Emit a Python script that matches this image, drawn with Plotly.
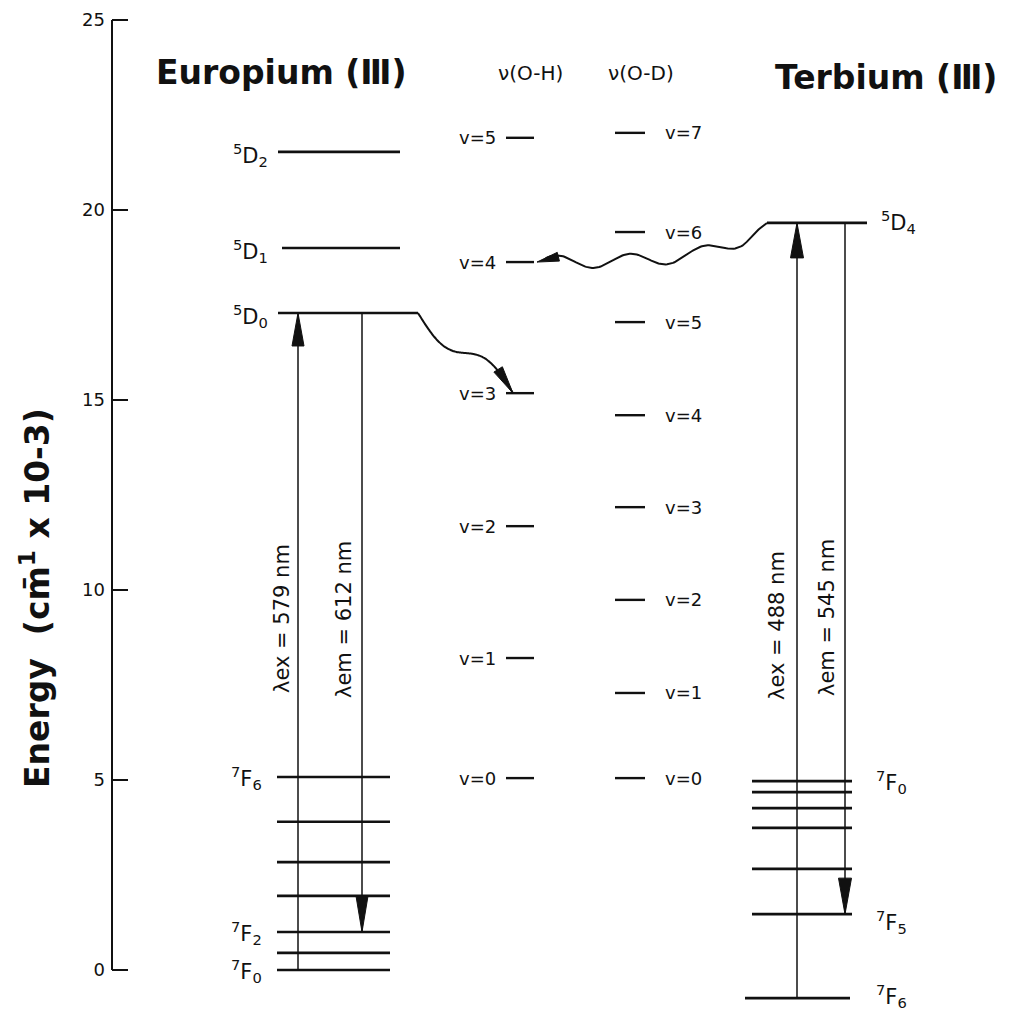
import numpy as np
import plotly.graph_objects as go

# ---------------- data (energies in 10^3 cm^-1) ----------------
y_ticks = [0, 5, 10, 15, 20, 25]

eu_upper_labels = ["5D2", "5D1", "5D0"]
eu_upper_E = [21.53, 19.0, 17.29]
eu_lower_labels = ["7F6", "", "", "", "7F2", "", "7F0"]
eu_lower_E = [5.08, 3.9, 2.84, 1.95, 1.0, 0.45, 0.0]

oh_v = [0, 1, 2, 3, 4, 5]
oh_E = [5.05, 8.21, 11.68, 15.18, 18.63, 21.9]
od_v = [0, 1, 2, 3, 4, 5, 6, 7]
od_E = [5.05, 7.29, 9.74, 12.18, 14.6, 17.05, 19.42, 22.03]

tb_upper_labels = ["5D4"]
tb_upper_E = [19.66]
tb_lower_labels = ["7F0", "", "", "", "", "7F5", "7F6"]
tb_lower_E = [4.97, 4.68, 4.26, 3.74, 2.66, 1.47, -0.74]

eu_ex_nm, eu_em_nm = 579, 612
tb_ex_nm, tb_em_nm = 488, 545

# ---------------- layout / style ----------------
W, H = 1010, 1015
ML = 112
Y_RANGE = [-45 / 38, 970 / 38]
PXE = H / (Y_RANGE[1] - Y_RANGE[0])
INK = "#111111"
FONT = "DejaVu Sans"
TB_LABEL_SHIFT = {"7F0": -1, "7F5": -8, "7F6": 2}


def e2px(E):
    return (Y_RANGE[1] - E) * PXE


def px2e(p):
    return Y_RANGE[1] - p / PXE


def term(s):
    return f"<sup>{s[0]}</sup>{s[1]}<sub>{s[2:]}</sub>" if s else ""


fig = go.Figure()


def segs(pairs, width=2.6):
    xs, ys = [], []
    for (x0, x1, E) in pairs:
        xs += [x0, x1, None]
        ys += [E, E, None]
    fig.add_trace(go.Scatter(x=xs, y=ys, mode="lines", line=dict(color=INK, width=width),
                             hoverinfo="skip", showlegend=False))


def vline(x, E0, E1, width=1.5):
    fig.add_trace(go.Scatter(x=[x, x], y=[E0, E1], mode="lines",
                             line=dict(color=INK, width=width), hoverinfo="skip", showlegend=False))


def head(tx, tE, dx, dy, L, Wd):
    n = np.hypot(dx, dy)
    ux, uy = dx / n, dy / n
    tpx, tpy = tx, e2px(tE)
    bx, by = tpx - L * ux, tpy - L * uy
    px_, py_ = -uy, ux
    xs = [tpx, bx + Wd / 2 * px_, bx - Wd / 2 * px_, tpx]
    ys = [tpy, by + Wd / 2 * py_, by - Wd / 2 * py_, tpy]
    fig.add_trace(go.Scatter(x=xs, y=[px2e(v) for v in ys], mode="lines", fill="toself",
                             fillcolor=INK, line=dict(color=INK, width=1),
                             hoverinfo="skip", showlegend=False))


def label(x, E, text, anchor, size=17, yshift=0, angle=0):
    fig.add_annotation(x=x, y=E, xref="x", yref="y", text=text, showarrow=False,
                       xanchor=anchor, yanchor="middle", yshift=yshift, textangle=angle,
                       font=dict(family=FONT, size=size, color=INK))


# ---- Europium levels ----
EU_UP_X = [(278, 400), (282, 400), (278, 418)]
segs([(a, b, E) for (a, b), E in zip(EU_UP_X, eu_upper_E)])
segs([(277, 390, E) for E in eu_lower_E])
for lab, E in zip(eu_upper_labels, eu_upper_E):
    label(270, E, term(lab), "right", 21, yshift=-3)
for lab, E in zip(eu_lower_labels, eu_lower_E):
    if lab:
        label(264, E, term(lab), "right", 21, yshift=-1)

# ---- O-H and O-D vibrational levels ----
segs([(506, 534, E) for E in oh_E], 2.4)
segs([(615, 645, E) for E in od_E], 2.4)
for v, E in zip(oh_v, oh_E):
    label(498, E, f"v={v}", "right", 18)
for v, E in zip(od_v, od_E):
    label(663, E, f"v={v}", "left", 18)

# ---- Terbium levels ----
segs([(767, 867, tb_upper_E[0])])
TB_LO_X = [(752, 852)] * 6 + [(745, 850)]
segs([(a, b, E) for (a, b), E in zip(TB_LO_X, tb_lower_E)])
label(879, tb_upper_E[0], term(tb_upper_labels[0]), "left", 21, yshift=1)
for lab, E in zip(tb_lower_labels, tb_lower_E):
    if lab:
        label(874, E, term(lab), "left", 21, yshift=TB_LABEL_SHIFT[lab])

# ---- radiative transitions ----
E_eu5D0 = eu_upper_E[2]
E_eu7F2 = eu_lower_E[eu_lower_labels.index("7F2")]
E_eu7F0 = eu_lower_E[eu_lower_labels.index("7F0")]
E_tb5D4 = tb_upper_E[0]
E_tb7F5 = tb_lower_E[tb_lower_labels.index("7F5")]
E_tb7F6 = tb_lower_E[tb_lower_labels.index("7F6")]

vline(298, E_eu7F0, E_eu5D0)
head(298, E_eu5D0, 0, -1, 33, 12)
vline(362, E_eu5D0, E_eu7F2)
head(362, E_eu7F2, 0, 1, 36, 12)
vline(797, E_tb7F6, E_tb5D4)
head(797, E_tb5D4, 0, -1, 35, 13)
vline(845, E_tb5D4, E_tb7F5)
head(845, E_tb7F5, 0, 1, 36, 13)

label(282, px2e(619), f"λex = {eu_ex_nm} nm", "center", 21, angle=-90)
label(344, px2e(620), f"λem = {eu_em_nm} nm", "center", 21, angle=-90)
label(777, px2e(626), f"λex = {tb_ex_nm} nm", "center", 21, angle=-90)
label(827, px2e(618), f"λem = {tb_em_nm} nm", "center", 21, angle=-90)

# ---- non-radiative (wavy) transfers ----
# Eu 5D0 -> O-H v=3
E_oh3 = oh_E[3]
x0, x1 = 418, 513
y0, y1 = e2px(E_eu5D0), e2px(E_oh3)
t = np.linspace(0, 1, 80)
xs = x0 + (x1 - x0) * t
f = t + 0.9 * np.sin(2 * np.pi * t) / (2 * np.pi)
ys = y0 + (y1 - y0) * f
fig.add_trace(go.Scatter(x=xs, y=px2e(ys), mode="lines", line=dict(color=INK, width=2),
                         hoverinfo="skip", showlegend=False, line_shape="spline"))
head(x1, E_oh3, xs[-1] - xs[-4], ys[-1] - ys[-4], 28, 10)

# Tb 5D4 -> O-H v=4
E_oh4 = oh_E[4]
x0, x1 = 767, 537
y0, y1 = e2px(E_tb5D4), e2px(E_oh4)
t = np.linspace(0, 1, 160)
xs = x0 + (x1 - x0) * t
base = (1 - np.exp(-5 * t)) / (1 - np.exp(-5))
env = np.clip(t / 0.1, 0, 1)
ys = y0 + (y1 - y0) * base + 6.5 * env * np.sin(2 * np.pi * (t - 0.355) / 0.32)
ys[-1] = y1
fig.add_trace(go.Scatter(x=xs[:-6], y=px2e(ys[:-6]), mode="lines", line=dict(color=INK, width=2),
                         hoverinfo="skip", showlegend=False))
head(x1, E_oh4, -1, 0.25, 22, 9)

# ---- axis line ----
fig.add_shape(type="line", xref="paper", yref="y", x0=0, x1=0, y0=0, y1=25,
              line=dict(color=INK, width=2))

# ---- headers ----
def header(xc, ypx, text, size):
    fig.add_annotation(x=xc, y=px2e(ypx), xref="x", yref="y", text=text, showarrow=False,
                       xanchor="center", yanchor="middle",
                       font=dict(family=FONT, size=size, color=INK))


header(281, 72, "<b>Europium (Ⅲ)</b>", 33)
header(886, 77, "<b>Terbium (Ⅲ)</b>", 33)
header(530, 73, "ν(O-H)", 20)
header(641, 73, "ν(O-D)", 20)

fig.add_annotation(x=(35 - ML) / (W - ML), y=1 - 598 / H, xref="paper", yref="paper",
                   text="<b>Energy  (cm\u0304<sup>1</sup> x 10-3)</b>", showarrow=False,
                   textangle=-90, xanchor="center", yanchor="middle",
                   font=dict(family=FONT, size=33, color=INK))

fig.update_layout(
    width=W, height=H,
    margin=dict(l=ML, r=0, t=0, b=0),
    paper_bgcolor="white", plot_bgcolor="white",
    xaxis=dict(range=[ML, W], visible=False, fixedrange=True),
    yaxis=dict(range=Y_RANGE, tickvals=y_ticks, ticktext=[str(v) for v in y_ticks],
               ticks="inside", ticklen=16, tickwidth=2, tickcolor=INK,
               showgrid=False, zeroline=False, showline=False,
               tickfont=dict(family=FONT, size=18, color=INK), ticklabelstandoff=6),
    showlegend=False,
)

fig.write_html("out.html", config={"displayModeBar": False},
               post_script="document.body.style.margin='0';"
                           "document.documentElement.style.overflow='hidden';")
